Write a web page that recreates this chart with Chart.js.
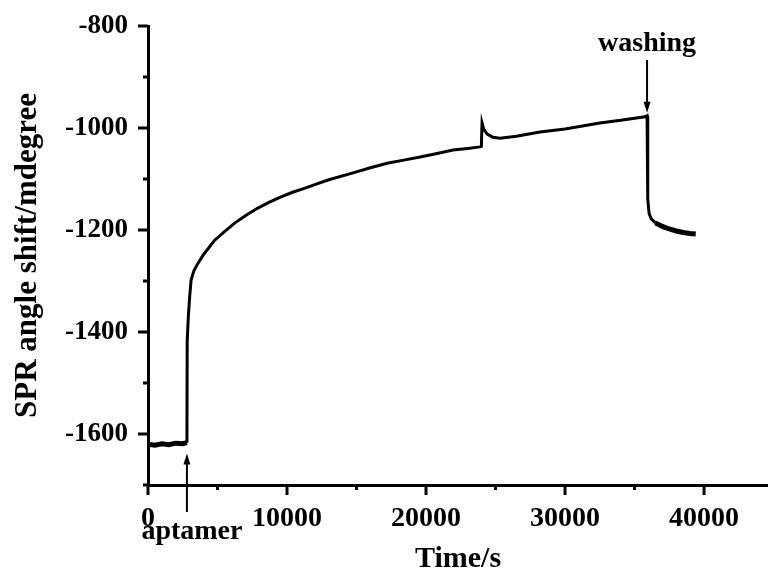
<!DOCTYPE html>
<html>
<head>
<meta charset="utf-8">
<script src="https://cdn.jsdelivr.net/npm/chart.js@4/dist/chart.umd.min.js"></script>
<style>
  html, body { margin: 0; padding: 0; background: #fff; }
  canvas { display: block; }
</style>
</head>
<body>
<canvas id="spr" width="768" height="574"></canvas>
<script>
// time (s) and SPR angle shift (mdegree)
const times = [0, 500, 1000, 1500, 2000, 2500, 2800, 2820, 2900, 3000, 3100, 3300, 3600, 4000, 4800,
  5500, 6260, 7000, 7900, 8700, 9570, 10400, 11300, 12100, 12950, 14750, 16000, 17200, 18400,
  19570, 20800, 21940, 23000, 23880, 23980, 24030, 24150, 24400, 24800, 25320, 26500, 28200,
  30000, 32500, 34000, 35750, 35900, 35950, 36050, 36200, 36500, 37000, 37500, 38000, 38500,
  39000, 39400];
const shifts = [-1620, -1622, -1619, -1621, -1618, -1619, -1617, -1418, -1370, -1330, -1298, -1280, -1265, -1248, -1220,
  -1203, -1186, -1172, -1157, -1146, -1135, -1126, -1118, -1110, -1102, -1088, -1078, -1069, -1063,
  -1057, -1050, -1043, -1040, -1037, -1036, -990, -1002, -1012, -1018, -1020, -1016, -1008,
  -1002, -990, -985, -978, -976, -1140, -1168, -1178, -1186, -1193, -1198, -1202, -1205,
  -1207, -1208];

const xTicks = [0, 10000, 20000, 30000, 40000];
const xMinor = [5000, 15000, 25000, 35000];
const yTicks = [-800, -1000, -1200, -1400, -1600];
const yMinor = [-900, -1100, -1300, -1500, -1700];

const marks = [
  { label: 'aptamer', t: 2800 },
  { label: 'washing', t: 35900 }
];

const serif = "'Liberation Serif', 'Times New Roman', serif";

const tickMarks = {
  id: 'tickMarks',
  afterDraw(chart) {
    const { ctx, chartArea: a, scales: { x, y } } = chart;
    ctx.save();
    ctx.strokeStyle = '#000';
    ctx.lineWidth = 3;
    ctx.beginPath();
    xTicks.forEach(v => { const p = x.getPixelForValue(v); ctx.moveTo(p, a.bottom); ctx.lineTo(p, a.bottom + 10); });
    xMinor.forEach(v => { const p = x.getPixelForValue(v); ctx.moveTo(p, a.bottom); ctx.lineTo(p, a.bottom + 5); });
    yTicks.forEach(v => { const p = y.getPixelForValue(v); ctx.moveTo(a.left, p); ctx.lineTo(a.left - 10, p); });
    yMinor.forEach(v => { const p = y.getPixelForValue(v); ctx.moveTo(a.left, p); ctx.lineTo(a.left - 5, p); });
    ctx.stroke();
    ctx.restore();
  }
};

function arrow(ctx, px, y0, y1) {
  // line from y0 to tip at y1
  const dir = y1 > y0 ? 1 : -1;
  ctx.beginPath();
  ctx.moveTo(px, y0);
  ctx.lineTo(px, y1 - dir * 8);
  ctx.stroke();
  ctx.beginPath();
  ctx.moveTo(px, y1);
  ctx.lineTo(px - 3.5, y1 - dir * 11);
  ctx.lineTo(px + 3.5, y1 - dir * 11);
  ctx.closePath();
  ctx.fill();
}

const notes = {
  id: 'notes',
  afterDraw(chart) {
    const { ctx, chartArea: a, scales: { x, y } } = chart;
    ctx.save();
    ctx.strokeStyle = '#000';
    ctx.fillStyle = '#000';
    ctx.lineWidth = 2;
    ctx.font = 'bold 28px ' + serif;
    ctx.textAlign = 'center';
    ctx.textBaseline = 'middle';

    const ap = x.getPixelForValue(marks[0].t);
    arrow(ctx, ap, a.bottom + 27, y.getPixelForValue(-1638));
    ctx.fillText(marks[0].label, ap + 5, a.bottom + 47);

    const wp = x.getPixelForValue(marks[1].t);
    arrow(ctx, wp, 60, y.getPixelForValue(-970));
    ctx.fillText(marks[1].label, wp, 44);
    ctx.restore();
  }
};

new Chart(document.getElementById('spr'), {
  type: 'line',
  data: {
    datasets: [{
      data: times.map((t, i) => ({ x: t, y: shifts[i] })),
      borderColor: '#000',
      borderWidth: 3,
      pointRadius: 0,
      tension: 0,
      segment: {
        borderWidth: c => (c.p0.parsed.x < 2800 || c.p0.parsed.x > 36300) ? 5 : 3
      }
    }]
  },
  options: {
    responsive: false,
    animation: false,
    layout: { padding: { top: 26, left: 0, right: 0, bottom: 0 } },
    plugins: { legend: { display: false }, tooltip: { enabled: false } },
    scales: {
      x: {
        type: 'linear',
        min: 0,
        max: 44600,
        afterFit: s => { s.height = 89; s.paddingLeft = 0; s.paddingRight = 0; },
        afterBuildTicks: s => { s.ticks = xTicks.map(v => ({ value: v })); },
        grid: { display: true, drawOnChartArea: false, drawTicks: false },
        border: { display: true, color: '#000', width: 3 },
        ticks: {
          color: '#000',
          padding: 17,
          maxRotation: 0,
          callback: v => String(v),
          font: { family: serif, size: 28, weight: 'bold' }
        },
        title: {
          display: true,
          text: 'Time/s',
          color: '#000',
          padding: { top: 0, bottom: 0 },
          font: { family: serif, size: 30, weight: 'bold', lineHeight: 1 }
        }
      },
      y: {
        min: -1700,
        max: -800,
        afterFit: s => { s.width = 148; s.paddingTop = 0; s.paddingBottom = 0; },
        afterBuildTicks: s => { s.ticks = yTicks.map(v => ({ value: v })); },
        grid: { display: true, drawOnChartArea: false, drawTicks: false },
        border: { display: true, color: '#000', width: 3 },
        ticks: {
          color: '#000',
          padding: 20,
          callback: v => String(v),
          font: { family: serif, size: 27, weight: 'bold' }
        },
        title: {
          display: true,
          text: 'SPR angle shift/mdegree',
          color: '#000',
          padding: { top: 12, bottom: 0 },
          font: { family: serif, size: 31, weight: 'bold', lineHeight: 1 }
        }
      }
    }
  },
  plugins: [tickMarks, notes]
});
</script>
</body>
</html>
